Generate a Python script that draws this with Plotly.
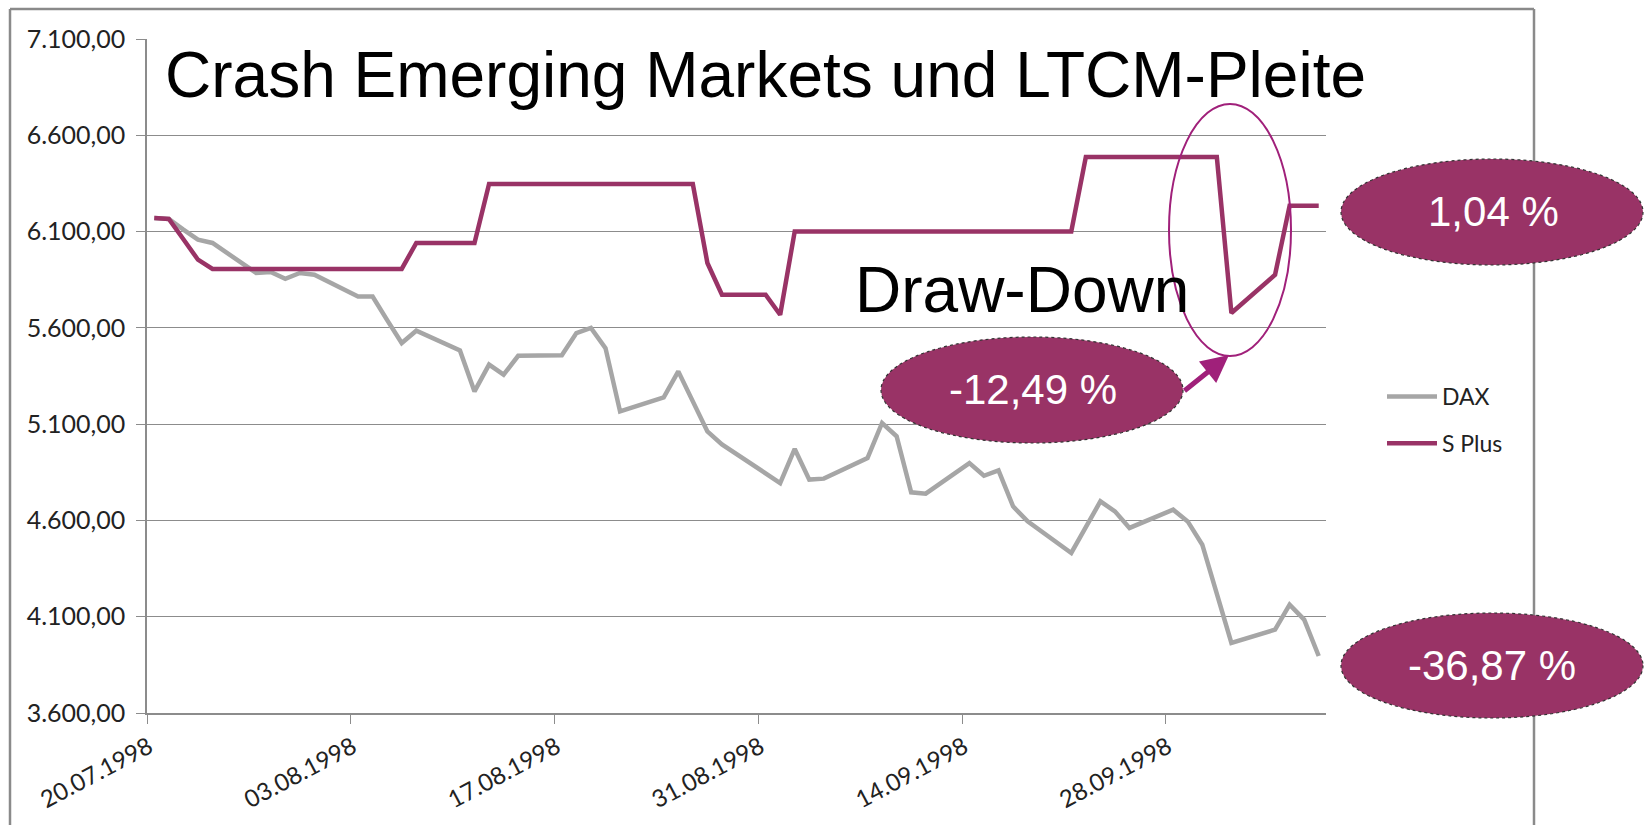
import pandas as pd
import plotly.graph_objects as go

# ---------------- data ----------------
dates = [
    "1998-07-20", "1998-07-21", "1998-07-22", "1998-07-23", "1998-07-24",
    "1998-07-27", "1998-07-28", "1998-07-29", "1998-07-30", "1998-07-31",
    "1998-08-03", "1998-08-04", "1998-08-05", "1998-08-06", "1998-08-07",
    "1998-08-10", "1998-08-11", "1998-08-12", "1998-08-13", "1998-08-14",
    "1998-08-17", "1998-08-18", "1998-08-19", "1998-08-20", "1998-08-21",
    "1998-08-24", "1998-08-25", "1998-08-26", "1998-08-27", "1998-08-28",
    "1998-08-31", "1998-09-01", "1998-09-02", "1998-09-03", "1998-09-04",
    "1998-09-07", "1998-09-08", "1998-09-09", "1998-09-10", "1998-09-11",
    "1998-09-14", "1998-09-15", "1998-09-16", "1998-09-17", "1998-09-18",
    "1998-09-21", "1998-09-22", "1998-09-23", "1998-09-24", "1998-09-25",
    "1998-09-28", "1998-09-29", "1998-09-30", "1998-10-01", "1998-10-02",
    "1998-10-05", "1998-10-06", "1998-10-07", "1998-10-08",
]
dax = [
    6171, 6165, 6110, 6058, 6041,
    5885, 5890, 5855, 5885, 5876,
    5763, 5763, 5640, 5521, 5585,
    5483, 5270, 5409, 5357, 5455,
    5458, 5573, 5600, 5495, 5166,
    5239, 5374, 5215, 5062, 4995,
    4846, 4794, 4971, 4812, 4817,
    4924, 5106, 5037, 4746, 4739,
    4898, 4832, 4860, 4673, 4595,
    4431, 4565, 4699, 4647, 4561,
    4656, 4595, 4474, 4220, 3964,
    4033, 4163, 4085, 3896,
]
splus = [
    6170, 6165, 6060, 5954, 5906,
    5906, 5906, 5906, 5906, 5906,
    5906, 5906, 5906, 5906, 6041,
    6041, 6041, 6347, 6347, 6347,
    6347, 6347, 6347, 6347, 6347,
    6347, 6347, 6347, 5937, 5772,
    5772, 5668, 6101, 6101, 6101,
    6101, 6101, 6101, 6101, 6101,
    6101, 6101, 6101, 6101, 6101,
    6101, 6487, 6487, 6487, 6487,
    6487, 6487, 6487, 6487, 5677,
    5876, 6234, 6234, 6234,
]
series_names = ["DAX", "S Plus"]
tick_labels = ["20.07.1998", "03.08.1998", "17.08.1998",
               "31.08.1998", "14.09.1998", "28.09.1998"]
y_min, y_max, y_step = 3600, 7100, 500
title_text = "Crash Emerging Markets und LTCM-Pleite"
drawdown_text = "Draw-Down"
bubble_texts = ["-12,49 %", "1,04 %", "-36,87 %"]

# ---------------- styling / layout ----------------
W, H = 1647, 825
L, R, T, B = 147, 1326, 39, 713   # plot area in pixels

def xp(px):
    return (px - L) / (R - L)

def yp(py):
    return (B - py) / (B - T)

GRID = "#8c8c8c"
PLUM = "#993366"
GRAY = "#a6a6a6"
MAGENTA = "#a0207a"
LABEL_FONT = "Lato, 'Open Sans', sans-serif"
ARIAL = "'Liberation Sans', Arial, sans-serif"

x_dates = pd.to_datetime(dates)
half = pd.Timedelta(hours=12)
tick_vals = [pd.to_datetime(t, format="%d.%m.%Y") - half for t in tick_labels]

fig = go.Figure()
fig.add_trace(go.Scatter(x=x_dates, y=dax, mode="lines", name=series_names[0],
                         line=dict(color=GRAY, width=4.5), legendgroup="a"))
fig.add_trace(go.Scatter(x=x_dates, y=splus, mode="lines", name=series_names[1],
                         line=dict(color=PLUM, width=4.5), legendgroup="b"))

fig.update_layout(
    width=W, height=H,
    margin=dict(l=L, r=W - R, t=T, b=H - B, pad=0),
    paper_bgcolor="white", plot_bgcolor="white",
    separators=",.",
    showlegend=True,
    legend=dict(x=xp(1382), y=yp(375), xanchor="left", yanchor="top",
                font=dict(family=LABEL_FONT, size=23, color="#222"),
                traceorder="grouped", tracegroupgap=14,
                bgcolor="rgba(0,0,0,0)", itemwidth=50),
    xaxis=dict(
        type="date",
        range=[x_dates[0] - half, x_dates[-1] + half],
        tickmode="array", tickvals=tick_vals, ticktext=tick_labels,
        tickangle=-28, ticks="outside", ticklen=9, tickcolor=GRID, tickwidth=1.3,
        showgrid=False, showline=True, linecolor=GRID, linewidth=1.5,
        tickfont=dict(family=LABEL_FONT, size=24, color="#222"),
        ticklabelshift=2,
        zeroline=False,
    ),
    yaxis=dict(
        range=[y_min, y_max], dtick=y_step, tick0=y_min,
        tickformat=",.2f",
        ticks="outside", ticklen=9, tickcolor=GRID, tickwidth=1.3,
        showgrid=True, gridcolor=GRID, gridwidth=1.3,
        showline=True, linecolor=GRID, linewidth=1.5,
        tickfont=dict(family=LABEL_FONT, size=25, color="#222"),
        ticklabelstandoff=6,
        zeroline=False,
    ),
)

shapes = []
# outer chart frame (top, left, right)
for (x0, y0, x1, y1) in [(10, 9, 1534, 9), (10, 9, 10, 830), (1534, 9, 1534, 830)]:
    shapes.append(dict(type="line", xref="paper", yref="paper",
                       x0=xp(x0), y0=yp(y0), x1=xp(x1), y1=yp(y1),
                       line=dict(color="#8a8a8a", width=2.5)))
# outline ellipse around the draw-down
shapes.append(dict(type="circle", xref="paper", yref="paper",
                   x0=xp(1169), x1=xp(1291), y0=yp(356), y1=yp(104),
                   line=dict(color=MAGENTA, width=2), fillcolor="rgba(0,0,0,0)"))
# filled bubbles
bubbles = [(881, 1183, 337, 443), (1341, 1643, 159, 265), (1341, 1643, 613, 718)]
for (x0, x1, y0, y1) in bubbles:
    shapes.append(dict(type="circle", xref="paper", yref="paper",
                       x0=xp(x0), x1=xp(x1), y0=yp(y1), y1=yp(y0),
                       fillcolor=PLUM,
                       line=dict(color="#333333", width=1.2, dash="dot")))
fig.update_layout(shapes=shapes)

annotations = [
    dict(text=title_text, xref="paper", yref="paper", x=xp(163), y=yp(75),
         xanchor="left", yanchor="middle", showarrow=False,
         font=dict(family=ARIAL, size=64, color="black")),
    dict(text=drawdown_text, xref="paper", yref="paper", x=xp(853), y=yp(290),
         xanchor="left", yanchor="middle", showarrow=False,
         font=dict(family=ARIAL, size=64, color="black")),
    # arrow from bubble to draw-down ellipse
    dict(text="", xref="paper", yref="paper", x=xp(1229), y=yp(355),
         ax=-46, ay=37, axref="pixel", ayref="pixel", showarrow=True,
         arrowhead=2, arrowsize=1.1, arrowwidth=5, arrowcolor=MAGENTA),
]
text_centers = [(1033, 390), (1493, 211), (1492, 665)]
for txt, (cx, cy) in zip(bubble_texts, text_centers):
    annotations.append(dict(text=txt, xref="paper", yref="paper", x=xp(cx), y=yp(cy),
                            xanchor="center", yanchor="middle", showarrow=False,
                            font=dict(family=ARIAL, size=42, color="white")))
fig.update_layout(annotations=annotations)

fig.write_html("out.html",
               config={"displayModeBar": False},
               post_script="document.body.style.margin='0';"
                           "document.body.style.overflow='hidden';")
